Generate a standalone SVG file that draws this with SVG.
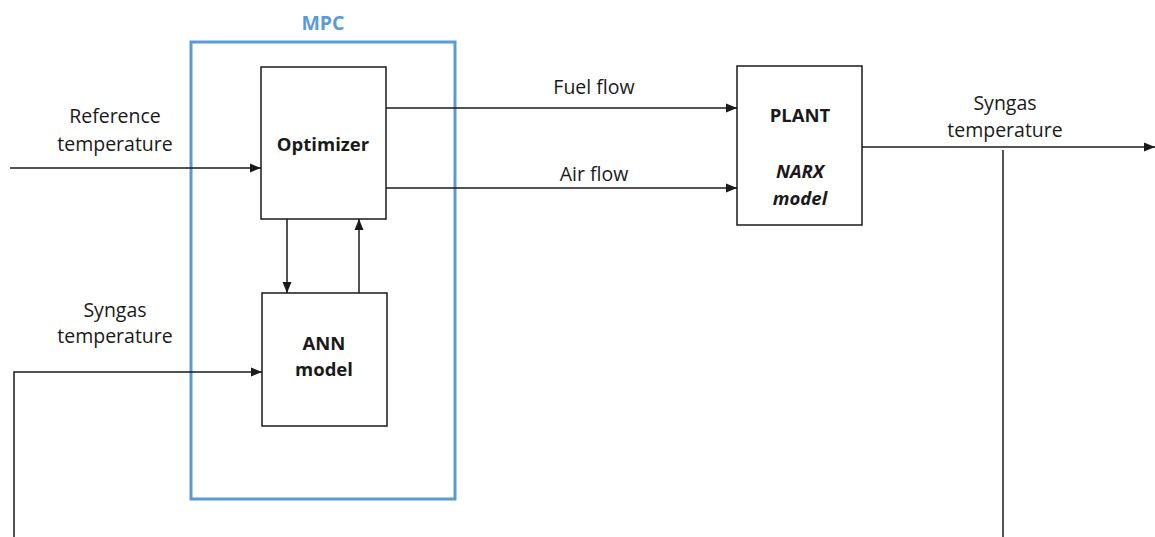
<svg xmlns="http://www.w3.org/2000/svg" width="1155" height="537" viewBox="0 0 1155 537">
<style>
text{font-family:"Open Sans","Liberation Sans",sans-serif;font-size:19.5px;fill:#1a1a1a;text-anchor:middle}
.b{font-weight:bold;font-size:18.5px}
.i{font-style:italic}
.box{fill:#fff;stroke:#1a1a1a;stroke-width:1.5}
.ln{fill:none;stroke:#1a1a1a;stroke-width:1.5}
</style>
<defs>
<marker id="ah" viewBox="0 0 11 10" refX="11" refY="5" markerWidth="11" markerHeight="10" markerUnits="userSpaceOnUse" orient="auto">
<path d="M0,0.5 L11,5 L0,9.5 z" fill="#1a1a1a"/>
</marker>
</defs>
<g id="mpc">
<rect x="191" y="42" width="264" height="457" fill="none" stroke="#5B9BD5" stroke-width="3"/>
<text x="323" y="30" class="b" style="fill:#5B9BD5;font-size:19.5px">MPC</text>
</g>
<g id="optimizer">
<rect class="box" x="261" y="67" width="125" height="152"/>
<text x="323" y="151" class="b">Optimizer</text>
</g>
<g id="ann">
<rect class="box" x="262" y="293" width="125" height="133"/>
<text x="324" y="350" class="b">ANN</text>
<text x="324" y="376" class="b">model</text>
</g>
<g id="plant">
<rect class="box" x="737" y="66" width="125" height="159"/>
<text x="800" y="122" class="b">PLANT</text>
<text x="800" y="178" class="b i">NARX</text>
<text x="800" y="205" class="b i">model</text>
</g>
<g id="labels">
<text x="115" y="123">Reference</text>
<text x="115" y="151">temperature</text>
<text x="115" y="317">Syngas</text>
<text x="115" y="343">temperature</text>
<text x="594" y="94">Fuel flow</text>
<text x="594" y="181">Air flow</text>
<text x="1005" y="110">Syngas</text>
<text x="1005" y="137">temperature</text>
</g>
<g id="connectors">
<line class="ln" x1="10" y1="168" x2="261" y2="168" marker-end="url(#ah)"/>
<line class="ln" x1="386" y1="108" x2="737" y2="108" marker-end="url(#ah)"/>
<line class="ln" x1="386" y1="188" x2="737" y2="188" marker-end="url(#ah)"/>
<line class="ln" x1="287" y1="219" x2="287" y2="293" marker-end="url(#ah)"/>
<line class="ln" x1="359" y1="293" x2="359" y2="219" marker-end="url(#ah)"/>
<polyline class="ln" points="14,537 14,372 262,372" marker-end="url(#ah)"/>
<line class="ln" x1="862" y1="147" x2="1155" y2="147" marker-end="url(#ah)"/>
<line class="ln" x1="1003" y1="150" x2="1003" y2="537"/>
</g>
</svg>
